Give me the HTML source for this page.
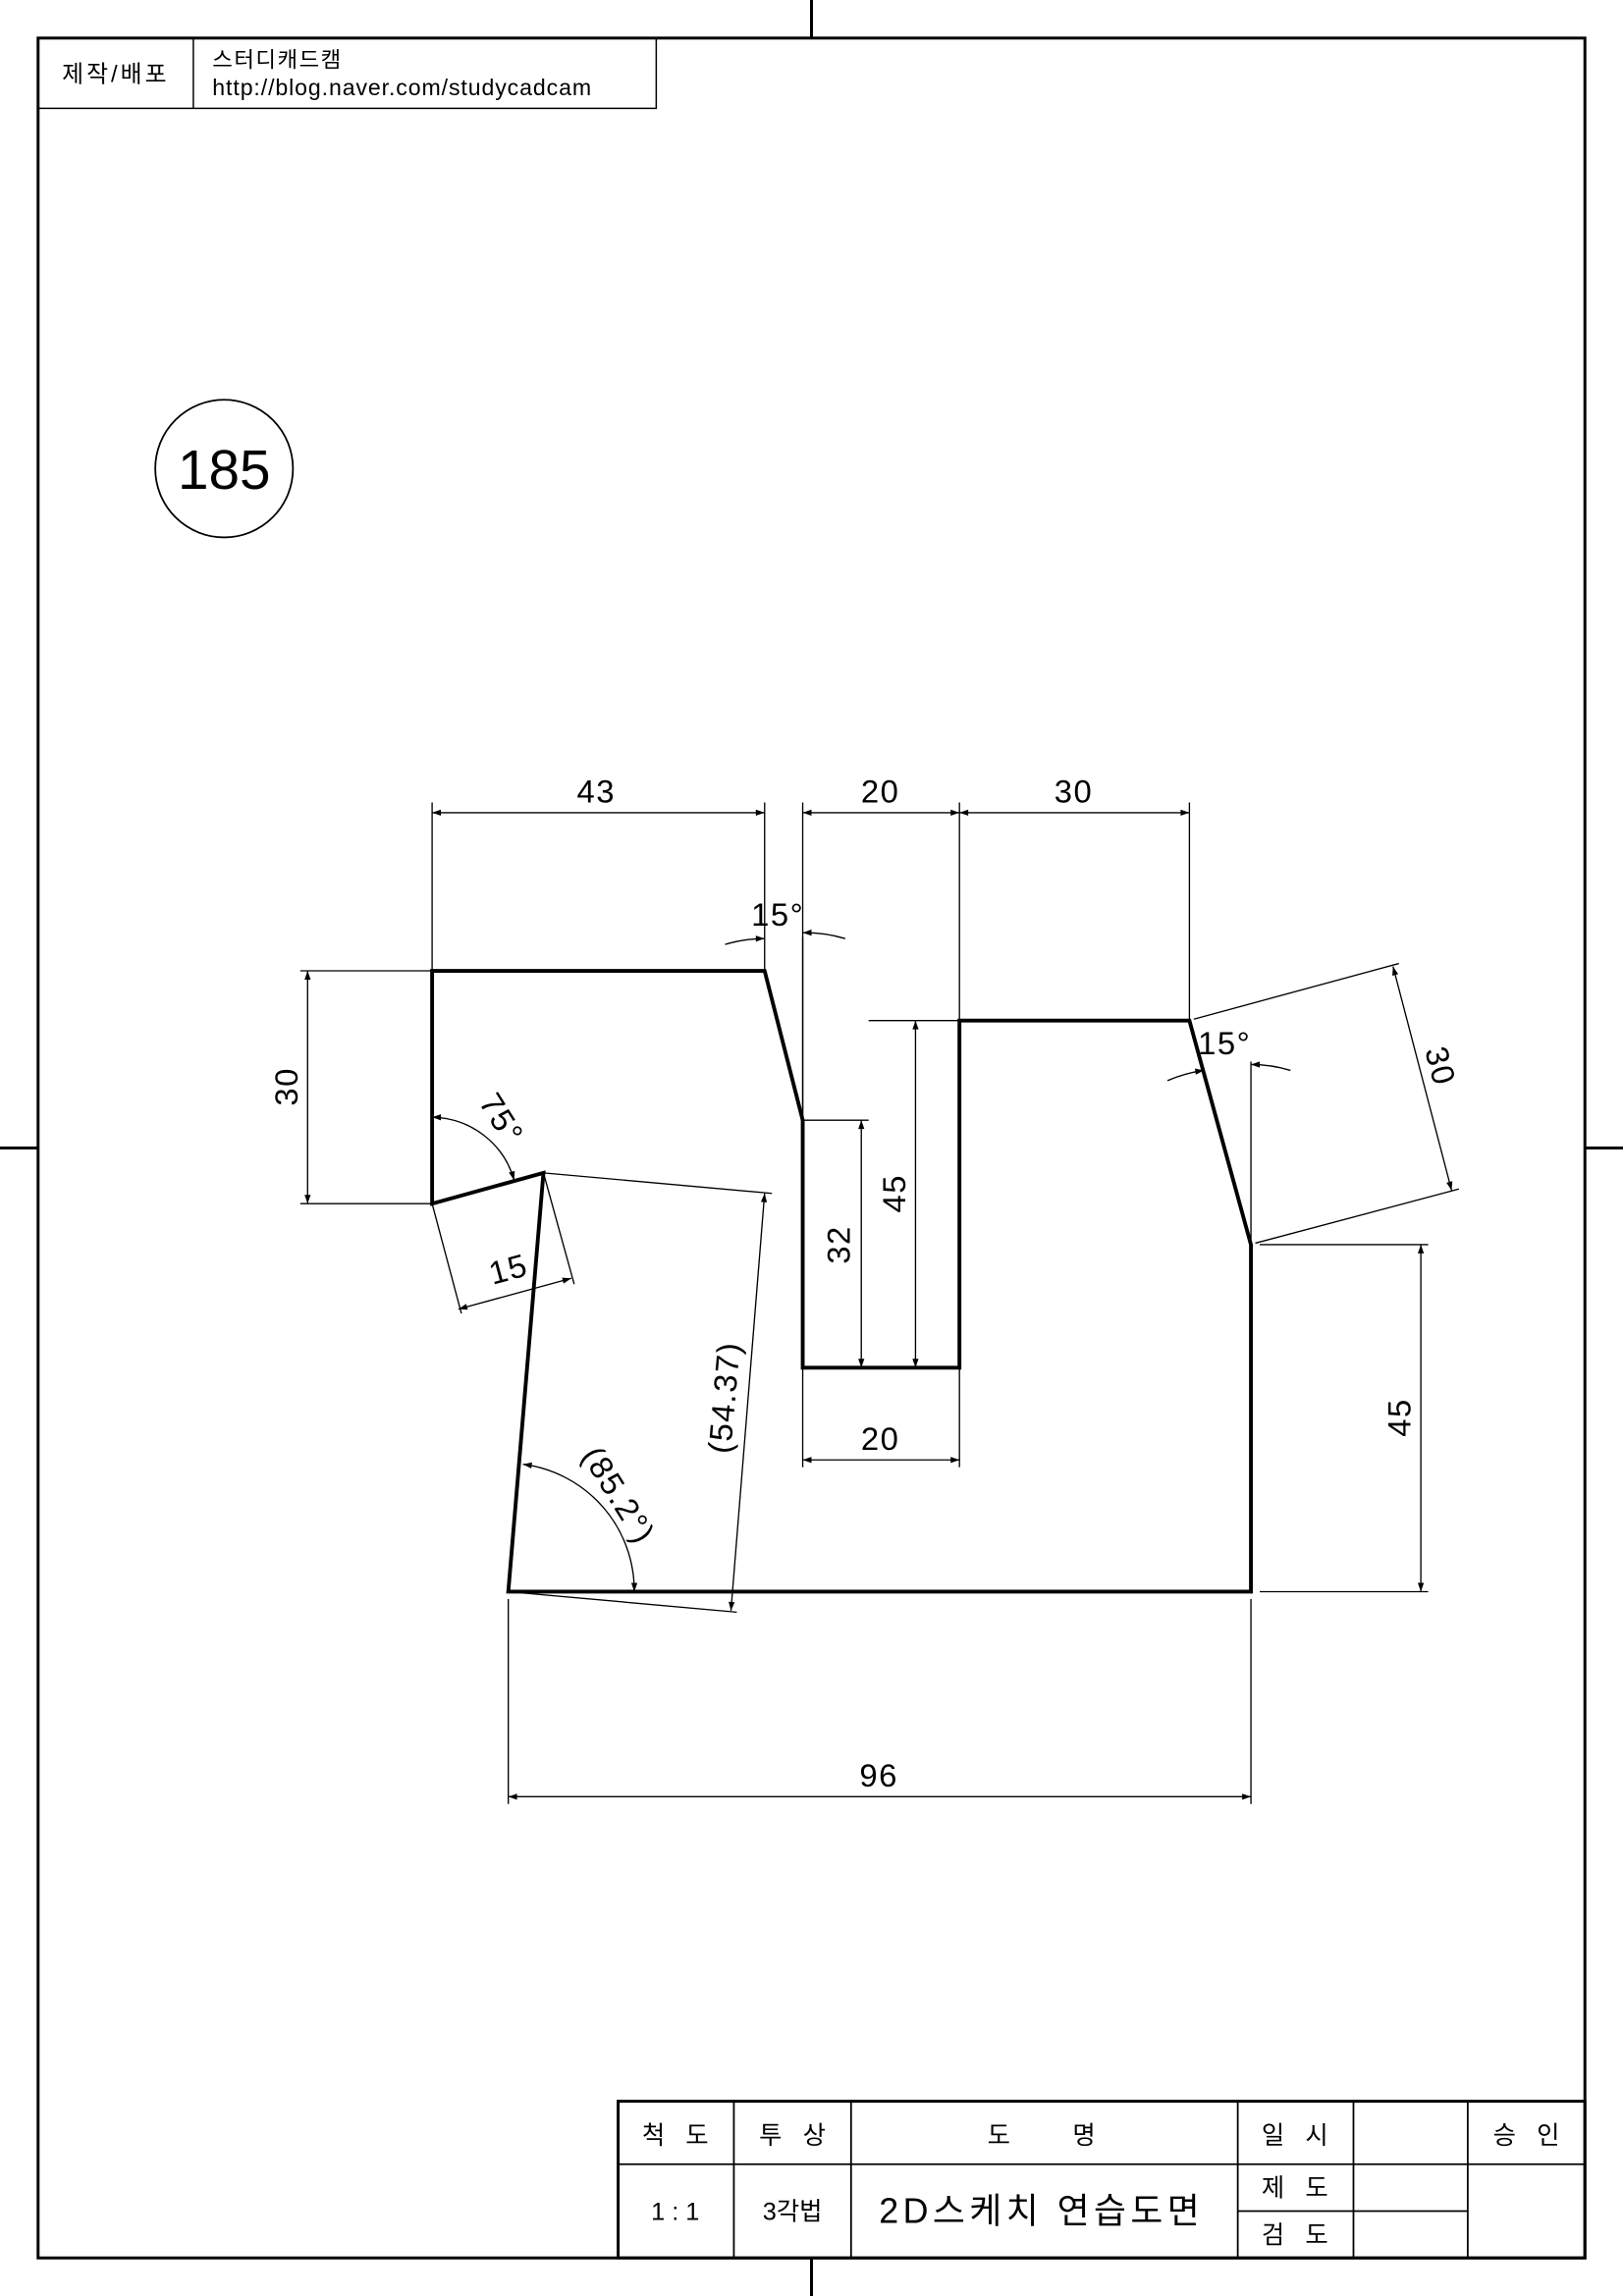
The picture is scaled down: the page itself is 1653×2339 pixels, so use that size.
<!DOCTYPE html>
<html><head><meta charset="utf-8"><style>
html,body{margin:0;padding:0;background:#fff;}
svg{display:block;}
text{font-family:"Liberation Sans","Noto Sans CJK KR",sans-serif;fill:#000;white-space:pre;}
</style></head><body>
<svg width="1653" height="2339" viewBox="0 0 1108 1568" preserveAspectRatio="none" xmlns="http://www.w3.org/2000/svg" xml:space="preserve">
<defs>
<marker id="a" viewBox="0 0 10 10" refX="10" refY="5" markerWidth="12" markerHeight="6" orient="auto-start-reverse" markerUnits="userSpaceOnUse"><path d="M0,1.5 L10,5 L0,8.5 z" fill="#000"/></marker>
</defs>
<rect x="0" y="0" width="1108" height="1568" fill="#fff"/>
<g stroke="#000" fill="none">
<rect x="26" y="26" width="1056" height="1516" stroke-width="2"/>
<line x1="554" y1="0" x2="554" y2="26" stroke-width="2"/>
<line x1="554" y1="1542" x2="554" y2="1568" stroke-width="2"/>
<line x1="0" y1="784" x2="26" y2="784" stroke-width="2"/>
<line x1="1082" y1="784" x2="1108" y2="784" stroke-width="2"/>
<rect x="26" y="26" width="422" height="48" stroke-width="1"/>
<line x1="132" y1="26" x2="132" y2="74" stroke-width="1"/>
<circle cx="153" cy="320" r="47" stroke-width="1.2"/>
<polygon points="295,663 522,663 548,765 548,934 655,934 655,697 812,697 854,850 854,1087 347,1087 371,801 295,822" stroke-width="2.6" stroke-linejoin="miter"/>
<g stroke-width="0.9">
<line x1="295" y1="548" x2="295" y2="663"/><line x1="522" y1="548" x2="522" y2="663"/>
<line x1="548" y1="548" x2="548" y2="765"/><line x1="655" y1="548" x2="655" y2="697"/>
<line x1="812" y1="548" x2="812" y2="697"/>
<line x1="205" y1="663" x2="295" y2="663"/><line x1="205" y1="822" x2="295" y2="822"/>
<line x1="548" y1="765" x2="593" y2="765"/><line x1="593" y1="697" x2="655" y2="697"/>
<line x1="548" y1="934" x2="548" y2="1002"/><line x1="655" y1="934" x2="655" y2="1002"/>
<line x1="815" y1="696" x2="955" y2="658"/><line x1="857" y1="849" x2="996" y2="812"/>
<line x1="860" y1="850" x2="975" y2="850"/><line x1="860" y1="1087" x2="975" y2="1087"/>
<line x1="347" y1="1092" x2="347" y2="1232"/><line x1="854" y1="1092" x2="854" y2="1232"/>
<line x1="295" y1="822" x2="315" y2="897"/><line x1="371" y1="801" x2="392" y2="877"/>
<line x1="371" y1="801" x2="527" y2="815"/><line x1="347" y1="1087" x2="503" y2="1101"/>
<line x1="548" y1="765" x2="548" y2="640"/><line x1="854" y1="850" x2="854" y2="725"/>
<line x1="295" y1="555" x2="522" y2="555" marker-start="url(#a)" marker-end="url(#a)"/>
<line x1="548" y1="555" x2="655" y2="555" marker-start="url(#a)" marker-end="url(#a)"/>
<line x1="655" y1="555" x2="812" y2="555" marker-start="url(#a)" marker-end="url(#a)"/>
<line x1="210" y1="663" x2="210" y2="822" marker-start="url(#a)" marker-end="url(#a)"/>
<line x1="588" y1="765" x2="588" y2="934" marker-start="url(#a)" marker-end="url(#a)"/>
<line x1="625" y1="697" x2="625" y2="934" marker-start="url(#a)" marker-end="url(#a)"/>
<line x1="548" y1="997" x2="655" y2="997" marker-start="url(#a)" marker-end="url(#a)"/>
<line x1="951" y1="660" x2="991" y2="813" marker-start="url(#a)" marker-end="url(#a)"/>
<line x1="970" y1="850" x2="970" y2="1087" marker-start="url(#a)" marker-end="url(#a)"/>
<line x1="347" y1="1227" x2="854" y2="1227" marker-start="url(#a)" marker-end="url(#a)"/>
<line x1="313" y1="894" x2="390" y2="873" marker-start="url(#a)" marker-end="url(#a)"/>
<line x1="522" y1="815" x2="499" y2="1100" marker-start="url(#a)" marker-end="url(#a)"/>
<path d="M295,763 A59,59 0 0 1 351,806" marker-start="url(#a)" marker-end="url(#a)"/>
<path d="M357,1000 A87,87 0 0 1 433,1087" marker-start="url(#a)" marker-end="url(#a)"/>
<path d="M495,645 A95,95 0 0 1 522,641" marker-end="url(#a)"/>
<path d="M548,637 A95,95 0 0 1 577,641" marker-start="url(#a)"/>
<path d="M797,738 A95,95 0 0 1 822,731" marker-end="url(#a)"/>
<path d="M854,727 A95,95 0 0 1 881,731" marker-start="url(#a)"/>
</g>
<g stroke-width="1.2">
<rect x="422" y="1435" width="660" height="107" stroke-width="2"/>
<line x1="422" y1="1478" x2="1082" y2="1478"/>
<line x1="845" y1="1510" x2="1002" y2="1510"/>
<line x1="501" y1="1435" x2="501" y2="1542"/>
<line x1="581" y1="1435" x2="581" y2="1542"/>
<line x1="845" y1="1435" x2="845" y2="1542"/>
<line x1="924" y1="1435" x2="924" y2="1542"/>
<line x1="1002" y1="1435" x2="1002" y2="1542"/>
</g>
</g>
<g font-size="16" text-anchor="middle">
<text x="79" y="56" letter-spacing="2">제작/배포</text>
<text x="145" y="46" text-anchor="start" font-size="15" letter-spacing="1">스터디캐드캠</text>
<text x="145" y="65" text-anchor="start" font-size="15.5" letter-spacing="0.6">http://blog.naver.com/studycadcam</text>
<text x="153" y="334" font-size="38">185</text>
</g>
<g font-size="22" text-anchor="middle" letter-spacing="1">
<text x="407" y="548">43</text>
<text x="601" y="548">20</text>
<text x="733" y="548">30</text>
<text x="601" y="990">20</text>
<text x="600" y="1220">96</text>
<text transform="translate(203,742) rotate(-90)">30</text>
<text transform="translate(580,850) rotate(-90)">32</text>
<text transform="translate(618,815) rotate(-90)">45</text>
<text transform="translate(963,968) rotate(-90)">45</text>
<text transform="translate(976,730) rotate(75)">30</text>
<text transform="translate(349,874) rotate(-15)">15</text>
<text transform="translate(502,955) rotate(-85)">(54.37)</text>
<text transform="translate(336,768) rotate(58)">75°</text>
<text transform="translate(416,1025) rotate(58)">(85.2°)</text>
<text x="531" y="632">15°</text>
<text x="836" y="720">15°</text>
</g>
<g font-size="17" text-anchor="middle">
<text x="461" y="1464">척   도</text>
<text x="541" y="1464">투   상</text>
<text x="711" y="1464">도         명</text>
<text x="884" y="1464">일   시</text>
<text x="1042" y="1464">승   인</text>
<text x="461" y="1516">1 : 1</text>
<text x="541" y="1516">3각법</text>
<text x="711" y="1518" font-size="24" letter-spacing="3">2D스케치 연습도면</text>
<text x="884" y="1500">제   도</text>
<text x="884" y="1532">검   도</text>
</g>
</svg>
</body></html>
